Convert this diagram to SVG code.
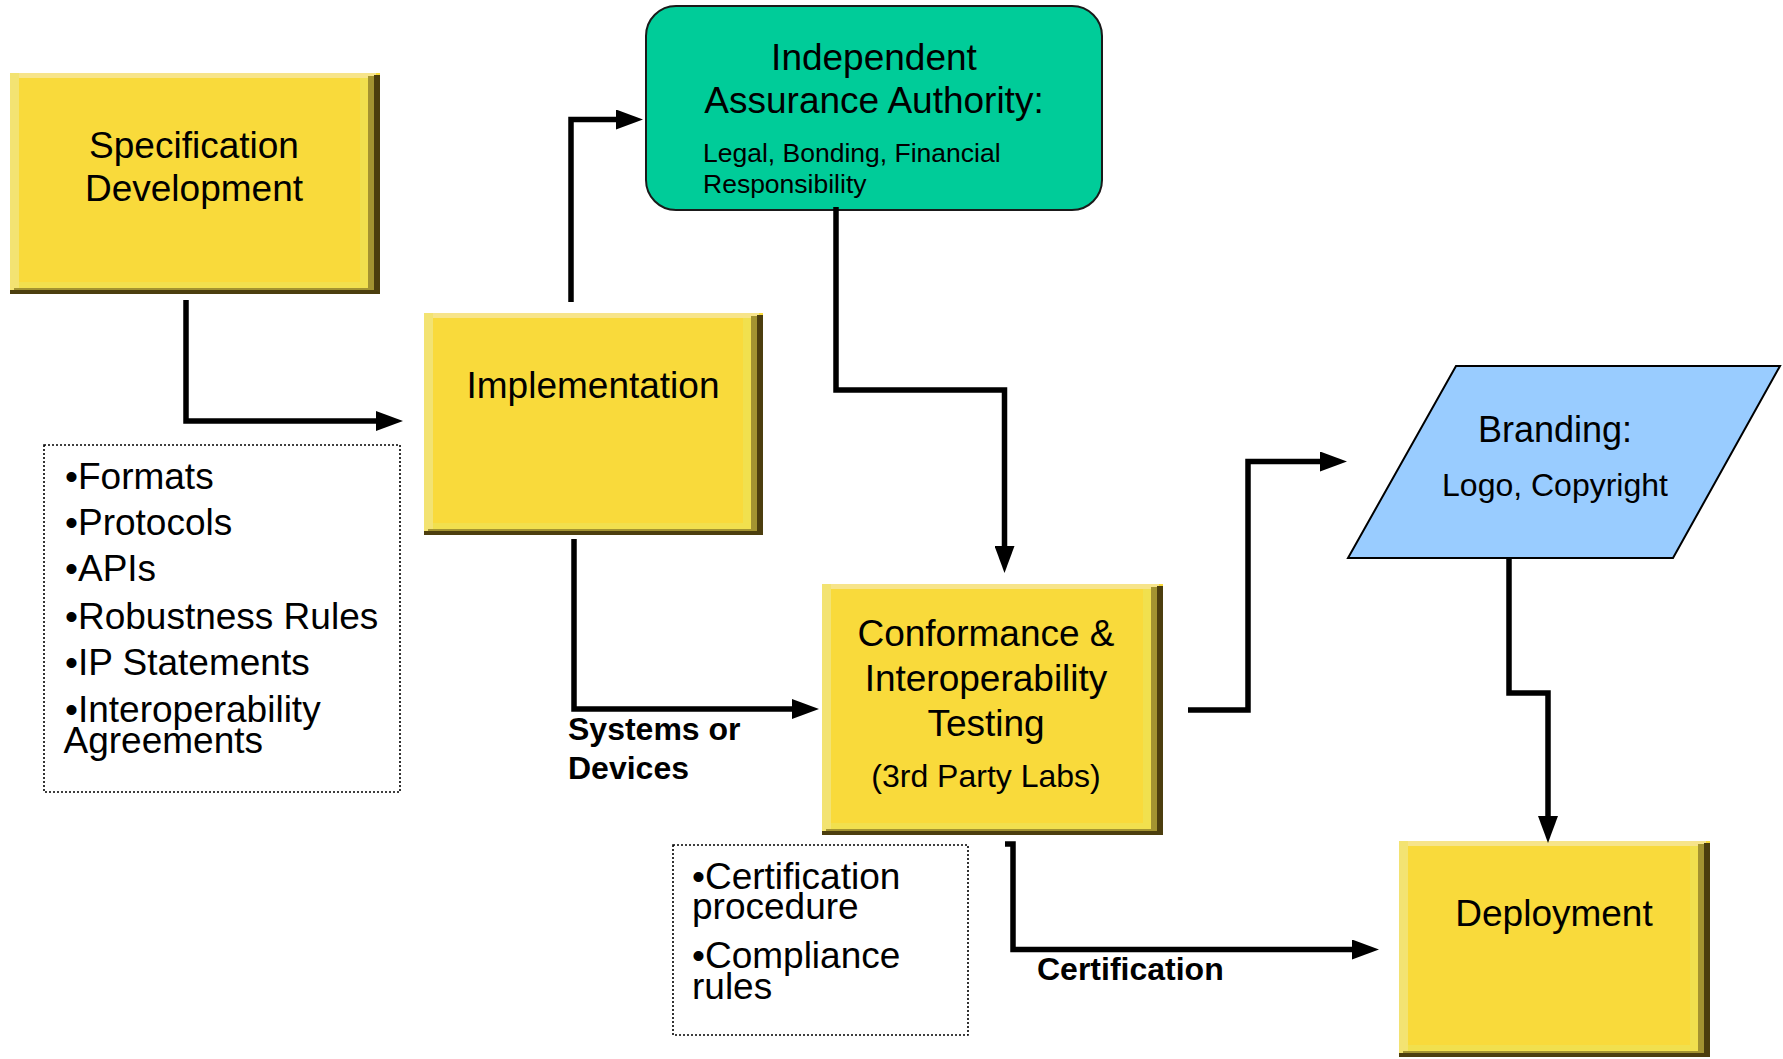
<svg xmlns="http://www.w3.org/2000/svg" width="1783" height="1059" viewBox="0 0 1783 1059">
<style>
text{font-family:"Liberation Sans",Arial,sans-serif;fill:#000}
.t37{font-size:37px;text-anchor:middle}
.t32{font-size:32px;text-anchor:middle}
.t36{font-size:36px;text-anchor:middle}
.small{font-size:26.5px}
.list{font-size:37px}
.lbl{font-size:32px;font-weight:bold}
.ym{fill:#F9DA3B}
.yl{fill:#F3E372}
.yt{fill:#F7E48A}
.yb{fill:#F1E04E}
.yo{fill:#A39331}
.yd{fill:#4C3E0E}
.conn path{fill:none;stroke:#000;stroke-width:5.5;stroke-linejoin:miter;stroke-linecap:butt}
.note{fill:#fff;stroke:#000;stroke-width:1.6;stroke-dasharray:2 2}
</style>
<defs>
<marker id="ah" markerUnits="userSpaceOnUse" markerWidth="27" markerHeight="20" refX="3" refY="10" orient="auto">
<path d="M0,0 L27,10 L0,20 z" fill="#000"/>
</marker>
</defs>
<rect width="1783" height="1059" fill="#fff"/>

<g id="spec">
<rect class="ym" x="10" y="73" width="370" height="221"/>
<rect class="yt" x="10" y="73" width="366" height="5"/>
<rect class="yl" x="10" y="73" width="9" height="217"/>
<rect class="yb" x="360" y="78" width="8" height="208"/>
<rect class="yb" x="19" y="282" width="349" height="6"/>
<rect class="yo" x="368" y="76" width="6" height="214"/>
<rect class="yo" x="14" y="288" width="360" height="3"/>
<rect class="yd" x="374" y="75" width="6" height="219"/>
<rect class="yd" x="10" y="290" width="370" height="4"/>
<text class="t37" x="194" y="158">Specification</text>
<text class="t37" x="194" y="201">Development</text>
</g>

<g id="impl">
<rect class="ym" x="424" y="313" width="339" height="222"/>
<rect class="yt" x="424" y="313" width="335" height="5"/>
<rect class="yl" x="424" y="313" width="9" height="218"/>
<rect class="yb" x="743" y="318" width="8" height="209"/>
<rect class="yb" x="433" y="523" width="318" height="6"/>
<rect class="yo" x="751" y="316" width="6" height="215"/>
<rect class="yo" x="428" y="529" width="329" height="3"/>
<rect class="yd" x="757" y="315" width="6" height="220"/>
<rect class="yd" x="424" y="531" width="339" height="4"/>
<text class="t37" x="593" y="398">Implementation</text>
</g>

<g id="iaa">
<rect x="646" y="6" width="456" height="204" rx="30" ry="30" fill="#00CC99" stroke="#1a1a1a" stroke-width="2"/>
<text class="t37" x="874" y="70">Independent</text>
<text class="t37" x="874" y="113">Assurance Authority:</text>
<text class="small" x="703" y="161.5">Legal, Bonding, Financial</text>
<text class="small" x="703" y="193">Responsibility</text>
</g>

<g id="conf">
<rect class="ym" x="822" y="584" width="341" height="251"/>
<rect class="yt" x="822" y="584" width="337" height="5"/>
<rect class="yl" x="822" y="584" width="9" height="247"/>
<rect class="yb" x="1143" y="589" width="8" height="238"/>
<rect class="yb" x="831" y="823" width="320" height="6"/>
<rect class="yo" x="1151" y="587" width="6" height="244"/>
<rect class="yo" x="826" y="829" width="331" height="3"/>
<rect class="yd" x="1157" y="586" width="6" height="249"/>
<rect class="yd" x="822" y="831" width="341" height="4"/>
<text class="t37" x="986" y="646">Conformance &amp;</text>
<text class="t37" x="986" y="691">Interoperability</text>
<text class="t37" x="986" y="736">Testing</text>
<text class="t32" x="986" y="787">(3rd Party Labs)</text>
</g>

<g id="branding">
<polygon points="1456,366 1780,366 1673,558 1348,558" fill="#99CCFF" stroke="#000" stroke-width="2"/>
<text class="t36" x="1555" y="442">Branding:</text>
<text class="t32" x="1555" y="496">Logo, Copyright</text>
</g>

<g id="deploy">
<rect class="ym" x="1399" y="841" width="311" height="216"/>
<rect class="yt" x="1399" y="841" width="307" height="5"/>
<rect class="yl" x="1399" y="841" width="9" height="212"/>
<rect class="yb" x="1690" y="846" width="8" height="203"/>
<rect class="yb" x="1408" y="1045" width="290" height="6"/>
<rect class="yo" x="1698" y="844" width="6" height="209"/>
<rect class="yo" x="1403" y="1051" width="301" height="3"/>
<rect class="yd" x="1704" y="843" width="6" height="214"/>
<rect class="yd" x="1399" y="1053" width="311" height="4"/>
<text class="t37" x="1554" y="926">Deployment</text>
</g>

<g id="note-spec">
<rect class="note" x="44" y="445" width="356" height="347"/>
<text class="list" x="65" y="489">•Formats</text>
<text class="list" x="65" y="535">•Protocols</text>
<text class="list" x="65" y="581">•APIs</text>
<text class="list" x="65" y="628.5">•Robustness Rules</text>
<text class="list" x="65" y="674.5">•IP Statements</text>
<text class="list" x="65" y="722">•Interoperability</text>
<text class="list" x="63.5" y="753">Agreements</text>
</g>

<g id="note-cert">
<rect class="note" x="673" y="845" width="295" height="190"/>
<text class="list" x="692" y="888.5">•Certification</text>
<text class="list" x="692" y="919">procedure</text>
<text class="list" x="692" y="968">•Compliance</text>
<text class="list" x="692" y="998.5">rules</text>
</g>

<g id="connectors" class="conn">
<path d="M186,300 V421 H379" marker-end="url(#ah)"/>
<path d="M571,302 V119.5 H619" marker-end="url(#ah)"/>
<path d="M836,207 V390 H1004.5 V549" marker-end="url(#ah)"/>
<path d="M1188,710 H1248 V461.5 H1323" marker-end="url(#ah)"/>
<path d="M1509,558 V693 H1548 V819" marker-end="url(#ah)"/>
<path d="M574,539 V709 H795" marker-end="url(#ah)"/>
<path d="M1005,844 H1013 V949.5 H1355" marker-end="url(#ah)"/>
</g>

<g id="labels">
<text class="lbl" x="568" y="740">Systems or</text>
<text class="lbl" x="568" y="778.5">Devices</text>
<text class="lbl" x="1037" y="980">Certification</text>
</g>
</svg>
